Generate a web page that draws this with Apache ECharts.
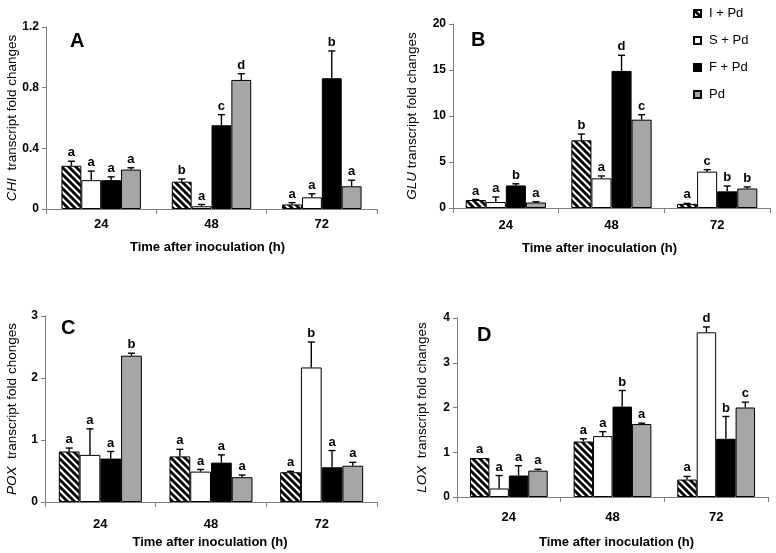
<!DOCTYPE html>
<html><head><meta charset="utf-8">
<script src="https://cdn.jsdelivr.net/npm/echarts@6/dist/echarts.min.js"></script>
<style>html,body{margin:0;padding:0;background:#fff}#c{width:776px;height:553px}</style>
</head><body><div id="c"></div>
<script>
// ---- data ----
const categories = ['24', '48', '72'];
const seriesNames = ['I + Pd', 'S + Pd', 'F + Pd', 'Pd'];
const yTicksA = [0, 0.4, 0.8, 1.2];
const yTicksB = [0, 5, 10, 15, 20];
const yTicksC = [0, 1, 2, 3];
const yTicksD = [0, 1, 2, 3, 4];

// rows: I + Pd, S + Pd, F + Pd, Pd ; columns: 24, 48, 72 h
const chiMean = [[0.285, 0.18, 0.03], [0.19, 0.018, 0.077], [0.19, 0.552, 0.862], [0.26, 0.851, 0.15]];
const chiErr = [[0.03, 0.018, 0.012], [0.06, 0.012, 0.023], [0.022, 0.07, 0.18], [0.012, 0.041, 0.04]];
const chiLetters = [['a', 'b', 'a'], ['a', 'a', 'a'], ['a', 'c', 'b'], ['a', 'd', 'a']];

const gluMean = [[0.87, 7.36, 0.45], [0.65, 3.22, 3.95], [2.45, 14.9, 1.81], [0.6, 9.6, 2.12]];
const gluErr = [[0.05, 0.68, 0.05], [0.55, 0.26, 0.22], [0.18, 1.7, 0.58], [0.08, 0.54, 0.17]];
const gluLetters = [['a', 'b', 'a'], ['a', 'a', 'c'], ['b', 'd', 'b'], ['a', 'c', 'b']];

const poxMean = [[0.815, 0.735, 0.48], [0.76, 0.49, 2.17], [0.70, 0.635, 0.56], [2.36, 0.40, 0.585]];
const poxErr = [[0.055, 0.115, 0.015], [0.42, 0.035, 0.41], [0.115, 0.125, 0.27], [0.04, 0.035, 0.055]];
const poxLetters = [['a', 'a', 'a'], ['a', 'a', 'b'], ['a', 'a', 'a'], ['b', 'a', 'a']];

const loxMean = [[0.87, 1.24, 0.39], [0.19, 1.36, 3.68], [0.48, 2.02, 1.3], [0.59, 1.63, 2.0]];
const loxErr = [[0, 0.06, 0.07], [0.29, 0.1, 0.12], [0.22, 0.36, 0.5], [0.03, 0.02, 0.12]];
const loxLetters = [['a', 'a', 'a'], ['a', 'a', 'd'], ['a', 'b', 'b'], ['a', 'a', 'c']];

// ---- styling ----
const FONT = '"Liberation Sans", Arial, sans-serif';
const AXIS_COLOR = '#7f7f7f';

function stripePattern() {
  const s = 7;
  const cv = document.createElement('canvas');
  cv.width = s; cv.height = s;
  const ctx = cv.getContext('2d');
  ctx.fillStyle = '#fff';
  ctx.fillRect(0, 0, s, s);
  ctx.strokeStyle = '#000';
  ctx.lineWidth = 2.8;
  for (let k = -1; k <= 1; k++) {
    ctx.beginPath();
    ctx.moveTo(-s + k * s, -s);
    ctx.lineTo(2 * s + k * s, 2 * s);
    ctx.stroke();
  }
  return { image: cv, repeat: 'repeat' };
}
const fills = [stripePattern(), '#ffffff', '#000000', '#a6a6a6'];

const panels = [
  { mean: chiMean, err: chiErr, letters: chiLetters, ticks: yTicksA, gene: 'CHI', rest: '  transcript fold changes', letter: 'A',
    grid: { left: 46, top: 27, width: 331, height: 182 }, gap: 0.28, yGap: 27, xGap: 32, labelMargin: 9, xNamePad: [0, 8, 0, 0], letterPos: [70, 31] },
  { mean: gluMean, err: gluErr, letters: gluLetters, ticks: yTicksB, gene: 'GLU', rest: ' transcript fold changes', letter: 'B',
    grid: { left: 453, top: 24, width: 317, height: 184 }, gap: 0.24, yGap: 34, xGap: 34, labelMargin: 11, xNamePad: [0, 24, 0, 0], letterPos: [471, 30] },
  { mean: poxMean, err: poxErr, letters: poxLetters, ticks: yTicksC, gene: 'POX', rest: '  transcript fold chonges', letter: 'C',
    grid: { left: 45, top: 316, width: 332, height: 186 }, gap: 0.25, yGap: 26, xGap: 34, labelMargin: 16, xNamePad: [0, 2, 0, 0], letterPos: [61, 318] },
  { mean: loxMean, err: loxErr, letters: loxLetters, ticks: yTicksD, gene: 'LOX', rest: '  transcript fold changes', letter: 'D',
    grid: { left: 457, top: 318, width: 311, height: 179 }, gap: 0.25, yGap: 28, xGap: 39, labelMargin: 14, xNamePad: [0, 0, 0, 8], letterPos: [477, 325] }
];

const grids = [], xAxes = [], yAxes = [], series = [], graphics = [];

panels.forEach((p, gi) => {
  grids.push(Object.assign({ containLabel: false, outerBoundsMode: 'none' }, p.grid));
  xAxes.push({
    type: 'category', gridIndex: gi, data: categories,
    name: 'Time after inoculation (h)', nameLocation: 'middle', nameGap: p.xGap,
    nameTextStyle: { fontFamily: FONT, fontSize: 13, fontWeight: 'bold', color: '#000', padding: p.xNamePad },
    axisLine: { show: true, lineStyle: { color: AXIS_COLOR, width: 1 } },
    axisTick: { show: true, length: 5, alignWithLabel: false, lineStyle: { color: AXIS_COLOR } },
    axisLabel: { fontFamily: FONT, fontSize: 13, fontWeight: 'bold', color: '#000', margin: p.labelMargin },
    splitLine: { show: false }
  });
  const tk = p.ticks;
  yAxes.push({
    type: 'value', gridIndex: gi, min: tk[0], max: tk[tk.length - 1], interval: tk[1] - tk[0],
    name: '{i|' + p.gene + '}' + p.rest, nameLocation: 'middle', nameGap: p.yGap, nameMoveOverlap: false,
    nameTextStyle: { fontFamily: FONT, fontSize: 13.5, color: '#000',
      rich: { i: { fontFamily: FONT, fontSize: 13.5, fontStyle: 'italic', color: '#000' } } },
    axisLine: { show: true, lineStyle: { color: AXIS_COLOR, width: 1 } },
    axisTick: { show: true, length: 4, inside: false, lineStyle: { color: AXIS_COLOR } },
    axisLabel: { fontFamily: FONT, fontSize: 12, fontWeight: 'bold', color: '#000', margin: 7,
      formatter: v => String(v) },
    splitLine: { show: false }
  });
  seriesNames.forEach((nm, si) => {
    series.push({
      type: 'bar', name: nm, xAxisIndex: gi, yAxisIndex: gi,
      data: p.mean[si],
      barGap: '0%', barCategoryGap: (p.gap * 100) + '%',
      itemStyle: { color: fills[si], borderColor: '#000', borderWidth: 1 },
      emphasis: { disabled: true },
      animation: false
    });
  });
  const errData = [];
  const errLetters = [];
  for (let si = 0; si < 4; si++) {
    for (let ci = 0; ci < 3; ci++) {
      errData.push([ci, p.mean[si][ci], p.err[si][ci], si]);
      errLetters.push(p.letters[si][ci]);
    }
  }
  const gap = p.gap;
  series.push({
    type: 'custom', name: 'err' + gi, xAxisIndex: gi, yAxisIndex: gi,
    data: errData, silent: true, animation: false, z: 5,
    encode: { x: 0, y: 1 },
    renderItem: function (params, api) {
      const ci = api.value(0), m = api.value(1), e = api.value(2), si = api.value(3);
      const base = api.coord([ci, m]);
      const band = api.size([1, 0])[0];
      const bw = band * (1 - gap) / 4;
      const x = base[0] + (si - 1.5) * bw;
      const yTop = api.coord([ci, m + e])[1];
      const children = [];
      if (e > 0) {
        children.push({ type: 'line', shape: { x1: x, y1: base[1], x2: x, y2: yTop },
          style: { stroke: '#000', lineWidth: 1.4 } });
        children.push({ type: 'line', shape: { x1: x - 3.5, y1: yTop, x2: x + 3.5, y2: yTop },
          style: { stroke: '#000', lineWidth: 1.4 } });
      }
      children.push({ type: 'text', x: x, y: yTop - 2,
        style: { text: errLetters[params.dataIndex], textAlign: 'center', textVerticalAlign: 'bottom',
          fontFamily: FONT, fontSize: 13, fontWeight: 'bold', fill: '#000' } });
      return { type: 'group', children: children };
    }
  });
  graphics.push({ type: 'text', left: p.letterPos[0], top: p.letterPos[1],
    style: { text: p.letter, fontFamily: FONT, fontSize: 20, fontWeight: 'bold', fill: '#000' } });
});

const chart = echarts.init(document.getElementById('c'), null, { renderer: 'canvas' });
chart.setOption({
  backgroundColor: '#fff',
  animation: false,
  grid: grids, xAxis: xAxes, yAxis: yAxes, series: series, graphic: graphics,
  legend: {
    data: seriesNames, orient: 'vertical', left: 688, top: 1,
    itemWidth: 7, itemHeight: 7, itemGap: 12, icon: 'rect',
    textStyle: { fontFamily: FONT, fontSize: 13, color: '#000', lineHeight: 15, padding: [0, 0, 0, 3] },
    selectedMode: false
  },
  tooltip: { show: false }
});
</script>
</body></html>
